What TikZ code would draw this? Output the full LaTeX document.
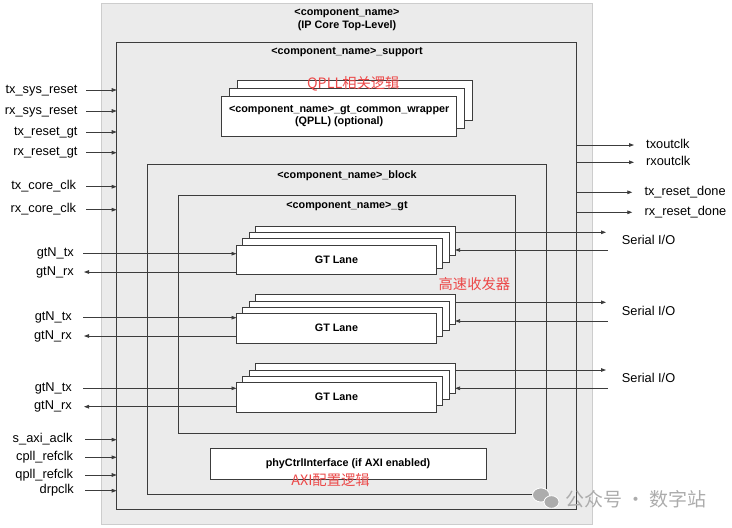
\documentclass[tikz,border=0pt]{standalone}
\usepackage{fontspec}
\setmainfont{Liberation Sans}
\newfontfamily\cjk{Noto Sans CJK SC}
\usetikzlibrary{arrows.meta}
\definecolor{bggray}{RGB}{235,235,235}
\definecolor{bgline}{RGB}{205,205,205}
\definecolor{ln}{RGB}{60,60,60}
\definecolor{redtxt}{RGB}{235,72,72}
\definecolor{wm}{RGB}{172,172,172}
\begin{document}
\begin{tikzpicture}[x=1pt,y=-1pt,
  box/.style={draw=ln, line width=0.8pt, anchor=north west, inner sep=0pt, outer sep=0pt},
  wbox/.style={box, fill=white},
  ttl/.style={font=\fontsize{10.8}{11.8}\selectfont\bfseries, align=center, inner sep=0pt},
  lbl/.style={font=\fontsize{12.8}{14}\selectfont, inner sep=0pt, text height=9pt, text depth=2.5pt},
  redlbl/.style={font=\cjk\fontsize{14.3}{16}\selectfont, text=redtxt, inner sep=0pt},
  arr/.style={draw=ln, line width=0.8pt, -{Triangle[length=5pt,width=3.6pt]}},
  lane/.style={wbox, minimum width=200pt, minimum height=29.5pt},
  qbox/.style={wbox, minimum width=235pt, minimum height=40pt},
]
\useasboundingbox (0,0) rectangle (732,528);

% containers
\node[box, draw=bgline, fill=bggray, minimum width=491pt, minimum height=521pt] (top) at (101,3) {};
\node[box, minimum width=460pt, minimum height=467.7pt] (sup) at (116.7,42) {};
\node[box, minimum width=398.3pt, minimum height=330pt] (blk) at (147.7,164) {};
\node[box, minimum width=336.6pt, minimum height=238pt] (gt) at (178.7,195) {};

% titles
\node[ttl, font=\fontsize{10.8}{13}\selectfont\bfseries] (toptitle) at (347,19.8) {<component\_name>\\(IP Core Top-Level)};
\node[ttl] (suptitle) at (347,52) {<component\_name>\_support};
\node[ttl] (blktitle) at (347,176) {<component\_name>\_block};
\node[ttl] (gttitle) at (347,206) {<component\_name>\_gt};

% QPLL stack
\node[qbox] (q2) at (237.1,80) {};
\node[qbox] (q1) at (229.4,88) {};
\node[qbox] (q0) at (221.7,96) {};
\node[ttl] (qtext) at (q0.center) {<component\_name>\_gt\_common\_wrapper\\(QPLL) (optional)};
\node[redlbl] (qred) at (353.3,84) {QPLL相关逻辑};

% GT lanes
\foreach \i in {3,2,1} {
  \node[lane] (la\i) at (236.5+6.2*\i,245-6.3*\i) {};
  \node[lane] (lb\i) at (236.5+6.2*\i,313.5-6.3*\i) {};
  \node[lane] (lc\i) at (236.5+6.2*\i,382.5-6.3*\i) {};
}
\node[lane, font=\fontsize{10.8}{12}\selectfont\bfseries] (la) at (236.5,245) {GT Lane};
\node[lane, font=\fontsize{10.8}{12}\selectfont\bfseries] (lb) at (236.5,313.5) {GT Lane};
\node[lane, font=\fontsize{10.8}{12}\selectfont\bfseries] (lc) at (236.5,382.5) {GT Lane};
\node[redlbl] (gtred) at (474.4,284) {高速收发器};

% phy ctrl
\node[wbox, minimum width=276pt, minimum height=31pt, font=\fontsize{10.8}{12}\selectfont\bfseries] (phy) at (210,448) {phyCtrlInterface (if AXI enabled)};
\node[redlbl] (axired) at (330.5,480) {AXI配置逻辑};

% left inputs to support
\node[lbl, anchor=east] (i1) at (77.7,90) {tx\_sys\_reset};
\node[lbl, anchor=east] (i2) at (77.7,111) {rx\_sys\_reset};
\node[lbl, anchor=east] (i3) at (77.7,132) {tx\_reset\_gt};
\node[lbl, anchor=east] (i4) at (77.7,152.7) {rx\_reset\_gt};
\node[lbl, anchor=east] (i5) at (76.3,186.7) {tx\_core\_clk};
\node[lbl, anchor=east] (i6) at (76.3,209.7) {rx\_core\_clk};
\node[lbl, anchor=east] (i7) at (72.7,439.7) {s\_axi\_aclk};
\node[lbl, anchor=east] (i8) at (73.3,457.3) {cpll\_refclk};
\node[lbl, anchor=east] (i9) at (73.3,475) {qpll\_refclk};
\node[lbl, anchor=east] (i10) at (74,490.7) {drpclk};
\foreach \n/\s in {i1/8.3,i2/8.3,i3/8.3,i4/8.3,i5/9.7,i6/9.7,i7/12.3,i8/11.7,i9/11.7,i10/11}
  \draw[arr] ([xshift=\s pt]\n.east) -- (\n.east -| sup.west);

% gtN lanes
\node[lbl, anchor=east] (ta) at (74,253.7) {gtN\_tx};
\node[lbl, anchor=east] (ra) at (74,272) {gtN\_rx};
\node[lbl, anchor=east] (tb) at (72,317.7) {gtN\_tx};
\node[lbl, anchor=east] (rb) at (72,336) {gtN\_rx};
\node[lbl, anchor=east] (tc) at (72,388.3) {gtN\_tx};
\node[lbl, anchor=east] (rc) at (72,406.7) {gtN\_rx};
\draw[arr] ([xshift=9.3pt]ta.east) -- (ta.east -| la.west);
\draw[arr] (ra.east -| la.west) -- ([xshift=10pt]ra.east);
\draw[arr] ([xshift=11.3pt]tb.east) -- (tb.east -| lb.west);
\draw[arr] (rb.east -| lb.west) -- ([xshift=12pt]rb.east);
\draw[arr] ([xshift=11.3pt]tc.east) -- (tc.east -| lc.west);
\draw[arr] (rc.east -| lc.west) -- ([xshift=12pt]rc.east);

% right outputs
\node[lbl, anchor=west] (o1) at (646,145) {txoutclk};
\node[lbl, anchor=west] (o2) at (646,162.3) {rxoutclk};
\node[lbl, anchor=west] (o3) at (644.3,192.3) {tx\_reset\_done};
\node[lbl, anchor=west] (o4) at (644.3,212.3) {rx\_reset\_done};
\foreach \n in {o1,o2,o3,o4}
  \draw[arr] (sup.east |- \n.west) -- ([xshift=-12pt]\n.west);

% serial I/O
\node[lbl, anchor=west] (sa) at (621.7,241) {Serial I/O};
\node[lbl, anchor=west] (sb) at (621.7,312) {Serial I/O};
\node[lbl, anchor=west] (sc) at (621.7,379) {Serial I/O};
\coordinate (satx) at (606,232.3);
\coordinate (sarx) at (607.7,250);
\coordinate (sbtx) at (606,302.3);
\coordinate (sbrx) at (607.7,321);
\coordinate (sctx) at (606,370);
\coordinate (scrx) at (607.7,388.3);
\draw[arr] (la3.east |- satx) -- (satx);
\draw[arr] (sarx) -- (la3.east |- sarx);
\draw[arr] (lb3.east |- sbtx) -- (sbtx);
\draw[arr] (sbrx) -- (lb3.east |- sbrx);
\draw[arr] (lc3.east |- sctx) -- (sctx);
\draw[arr] (scrx) -- (lc3.east |- scrx);

% watermark
\fill[wm, draw=white, line width=0.8pt] (541,495) ellipse [x radius=8.5, y radius=7];
\fill[wm, draw=white, line width=0.8pt] (551.5,502) ellipse [x radius=7.5, y radius=6.3];
\node[font=\cjk\fontsize{19}{21}\selectfont, text=wm, anchor=west, inner sep=0pt] (wmtext) at (565,499) {公众号 · 数字站};
\end{tikzpicture}
\end{document}
